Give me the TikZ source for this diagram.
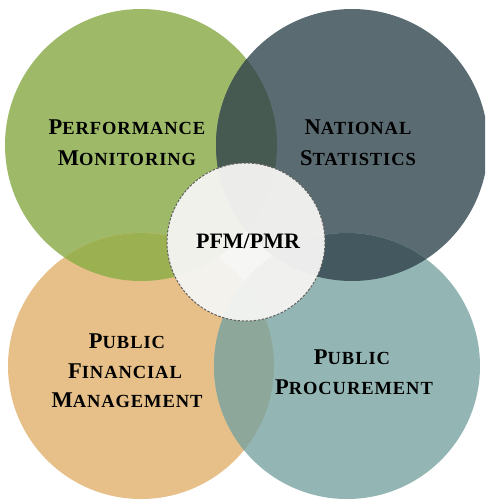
\documentclass[tikz,border=0pt]{standalone}
\usepackage{fontspec}
\setmainfont{Liberation Serif}
\definecolor{pmgreen}{HTML}{9EBA68}
\definecolor{nsslate}{HTML}{5A6B72}
\definecolor{pfmtan}{HTML}{E6C088}
\definecolor{ppteal}{HTML}{93B6B4}
\definecolor{ovGS}{HTML}{475A52}
\definecolor{ovGT}{HTML}{9BB050}
\definecolor{ovST}{HTML}{43585F}
\definecolor{ovTT}{HTML}{8DA89A}
\definecolor{hubfill}{HTML}{F5F5F3}
\definecolor{hubedge}{HTML}{606060}
% fake small caps: large initial, smaller letter-spaced capitals after it
\newcommand{\capword}[2]{{\fontsize{22.5}{22.5}\selectfont #1}{\fontsize{18.5}{18.5}\selectfont\addfontfeature{LetterSpace=5}#2}}
\tikzset{
  lbl/.style={anchor=base, inner sep=0pt, font=\bfseries, text=black},
  hub/.style={circle, minimum size=158pt, inner sep=0pt, fill=hubfill, fill opacity=0.95,
    draw=hubedge, draw opacity=1, line width=1pt, dash pattern=on 2.5pt off 1.5pt,
    text opacity=1}
}
\begin{document}
\begin{tikzpicture}[x=1pt,y=-1pt]
\useasboundingbox (0,0) rectangle (485,500);
\begin{scope}
\clip (0,0) rectangle (485,500);
% the four domains
\fill[pmgreen] (141,145) circle (136);
\fill[nsslate] (352,145) circle (136);
\fill[pfmtan] (141,366) circle (133);
\fill[ppteal] (347,366) circle (133);
% pairwise overlaps
\begin{scope}\clip (141,145) circle (136); \fill[ovGS] (352,145) circle (136);\end{scope}
\begin{scope}\clip (141,145) circle (136); \fill[ovGT] (141,366) circle (133);\end{scope}
\begin{scope}\clip (352,145) circle (136); \fill[ovST] (347,366) circle (133);\end{scope}
\begin{scope}\clip (141,366) circle (133); \fill[ovTT] (347,366) circle (133);\end{scope}
\end{scope}
% central hub
\node[hub] (hub) at (246,242) {};
\node[lbl] (hubtxt) at (248,248) {\fontsize{22}{22}\selectfont PFM/PMR};
% labels
\node[lbl] (pm1) at (127,135) {\capword{P}{ERFORMANCE}};
\node[lbl] (pm2) at (127,165) {\capword{M}{ONITORING}};
\node[lbl] (ns1) at (358,135) {\capword{N}{ATIONAL}};
\node[lbl] (ns2) at (358,165) {\capword{S}{TATISTICS}};
\node[lbl] (pf1) at (127,348) {\capword{P}{UBLIC}};
\node[lbl] (pf2) at (125,378) {\capword{F}{INANCIAL}};
\node[lbl] (pf3) at (127,407) {\capword{M}{ANAGEMENT}};
\node[lbl] (pp1) at (352,364) {\capword{P}{UBLIC}};
\node[lbl] (pp2) at (354,394) {\capword{P}{ROCUREMENT}};
\end{tikzpicture}
\end{document}
